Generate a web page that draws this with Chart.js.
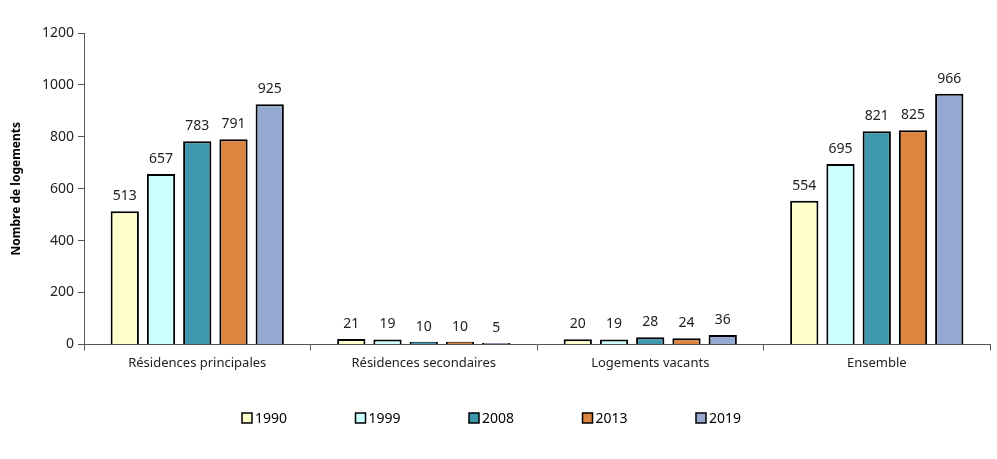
<!DOCTYPE html>
<html lang="fr">
<head>
  <meta charset="UTF-8">
  <title>Nombre de logements</title>
  <script src="https://cdn.jsdelivr.net/npm/chart.js@4.4.0/dist/chart.umd.min.js"></script>
  <style>
    html, body { margin: 0; padding: 0; background: #fff; }
    #wrap { width: 997px; height: 459px; }
  </style>
</head>
<body>
  <div id="wrap"><canvas id="myChart" width="997" height="459"></canvas></div>
  <script>
    // Categories and series
    const categories = ['Résidences principales', 'Résidences secondaires', 'Logements vacants', 'Ensemble'];
    const years = ['1990', '1999', '2008', '2013', '2019'];
    const v1990 = [513, 21, 20, 554];
    const v1999 = [657, 19, 19, 695];
    const v2008 = [783, 10, 28, 821];
    const v2013 = [791, 10, 24, 825];
    const v2019 = [925, 5, 36, 966];
    const colors = ['#FFFFCC', '#CCFFFF', '#3F97AE', '#DD8441', '#95A9D1'];

    const font = "'Noto Sans', 'Open Sans', sans-serif";

    // Draws the value above each bar
    const valueLabels = {
      id: 'valueLabels',
      afterDatasetsDraw(chart) {
        const ctx = chart.ctx;
        ctx.save();
        ctx.font = '14px ' + font;
        ctx.fillStyle = '#222';
        ctx.textAlign = 'center';
        ctx.textBaseline = 'bottom';
        chart.data.datasets.forEach((ds, i) => {
          chart.getDatasetMeta(i).data.forEach((bar, j) => {
            ctx.fillText(ds.data[j], bar.x, bar.y - 8);
          });
        });
        ctx.restore();
      }
    };

    // Legend row under the chart, evenly spaced like the original
    const bottomLegend = {
      id: 'bottomLegend',
      afterDraw(chart) {
        const ctx = chart.ctx;
        const step = 113.5;
        const x0 = 247;
        const y = 418;
        ctx.save();
        ctx.font = '14px ' + font;
        ctx.textBaseline = 'middle';
        ctx.textAlign = 'left';
        chart.data.datasets.forEach((ds, i) => {
          const x = x0 + i * step;
          ctx.fillStyle = ds.backgroundColor;
          ctx.fillRect(x - 5, y - 5, 10, 10);
          ctx.lineWidth = 1.5;
          ctx.strokeStyle = '#000';
          ctx.strokeRect(x - 5, y - 5, 10, 10);
          ctx.fillStyle = '#000';
          ctx.fillText(ds.label, x + 8, y + 1);
        });
        ctx.restore();
      }
    };

    const seriesValues = [v1990, v1999, v2008, v2013, v2019];
    const datasets = years.map((y, i) => ({
      label: y,
      data: seriesValues[i],
      backgroundColor: colors[i],
      borderColor: '#000',
      borderWidth: 2,
      barPercentage: 0.78,
      categoryPercentage: 0.8
    }));

    new Chart(document.getElementById('myChart'), {
      type: 'bar',
      data: { labels: categories, datasets: datasets },
      plugins: [valueLabels, bottomLegend],
      options: {
        responsive: false,
        animation: false,
        layout: { padding: { top: 33, right: 7, left: 5, bottom: 83 } },
        plugins: {
          tooltip: { enabled: false },
          legend: { display: false }
        },
        scales: {
          x: {
            grid: { offset: true, drawOnChartArea: false, tickLength: 6, color: '#555' },
            border: { color: '#555' },
            ticks: { color: '#222', font: { family: font, size: 13 }, padding: 5 }
          },
          y: {
            min: 0,
            max: 1200,
            afterFit(scale) { scale.width = 79; },
            grid: { drawOnChartArea: false, tickLength: 6, color: '#555' },
            border: { color: '#555' },
            ticks: {
              stepSize: 200,
              color: '#222',
              font: { family: font, size: 14 },
              padding: 4,
              callback: v => String(v)
            },
            title: {
              display: true,
              text: 'Nombre de logements',
              color: '#000',
              font: { family: font, size: 12, weight: 'bold' }
            }
          }
        }
      }
    });
  </script>
</body>
</html>
